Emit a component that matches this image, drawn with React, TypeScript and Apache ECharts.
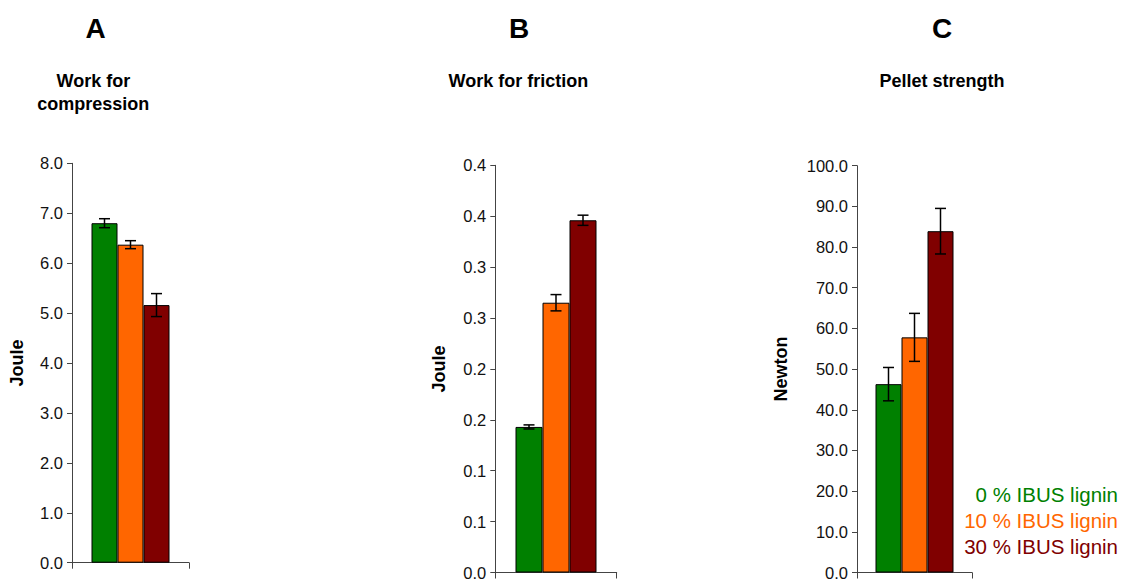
import React, { useEffect, useRef } from "react";
import * as echarts from "echarts";

const groups = ["0 % IBUS lignin", "10 % IBUS lignin", "30 % IBUS lignin"];
const colors = ["#008000", "#FF6600", "#800000"];

const panelLetters = ["A", "B", "C"];
const panelTitles = ["Work for\ncompression", "Work for friction", "Pellet strength"];
const axisNames = ["Joule", "Joule", "Newton"];

const compressionMean = [6.8, 6.37, 5.16];
const compressionErr = [0.09, 0.08, 0.23];
const frictionMean = [0.143, 0.265, 0.346];
const frictionErr = [0.002, 0.008, 0.005];
const strengthMean = [46.3, 57.8, 83.9];
const strengthErr = [4.1, 5.9, 5.6];

const axisMax = [8, 0.4, 100];
const axisInterval = [1, 0.05, 10];

const FONT = "'Liberation Sans', Arial, sans-serif";

export default function App() {
  const ref = useRef<HTMLDivElement>(null);

  useEffect(() => {
    if (!ref.current) return;
    const chart = echarts.init(ref.current, undefined, { renderer: "svg" });

    const means = [compressionMean, frictionMean, strengthMean];
    const errs = [compressionErr, frictionErr, strengthErr];

    const grids = [
      { left: 72, top: 163.3, width: 117, height: 399.4 },
      { left: 495.3, top: 165.3, width: 121.4, height: 408 },
      { left: 857, top: 165.7, width: 115, height: 411.6 },
    ];
    const barWidths = [26, 27, 26];
    const nameGaps = [46, 47, 67];
    const centers = [95.5, 519, 942];

    const axisColor = "#444";

    const xAxis = grids.map((_, i) => ({
      type: "category",
      gridIndex: i,
      data: [""],
      axisLabel: { show: false },
      axisLine: { lineStyle: { color: axisColor, width: 1 } },
      axisTick: { show: true, length: 6, lineStyle: { color: axisColor } },
      splitLine: { show: false },
    }));

    const yAxis = grids.map((_, i) => ({
      type: "value",
      gridIndex: i,
      min: 0,
      max: axisMax[i],
      interval: axisInterval[i],
      name: axisNames[i],
      nameLocation: "middle",
      nameRotate: 90,
      nameGap: nameGaps[i],
      nameTextStyle: { fontFamily: FONT, fontWeight: "bold", fontSize: 18, color: "#000" },
      axisLine: { show: true, lineStyle: { color: axisColor, width: 1 } },
      axisTick: { show: true, length: 5, lineStyle: { color: axisColor } },
      splitLine: { show: false },
      axisLabel: {
        margin: 9,
        fontFamily: FONT,
        fontSize: 16.5,
        color: "#111",
        formatter: (v: number) => (Math.round(v * 10) / 10).toFixed(1),
      },
    }));

    const series: any[] = [];
    for (let g = 0; g < 3; g++) {
      for (let s = 0; s < 3; s++) {
        series.push({
          type: "bar",
          name: groups[s],
          xAxisIndex: g,
          yAxisIndex: g,
          data: [means[g][s]],
          barWidth: barWidths[g],
          barGap: "0%",
          itemStyle: {
            color: colors[s],
            borderColor: "#000",
            borderWidth: 1,
          },
          z: 2,
        });
      }
      const bw = barWidths[g];
      series.push({
        type: "custom",
        name: "error" + g,
        xAxisIndex: g,
        yAxisIndex: g,
        z: 5,
        data: means[g].map((m, s) => [0, m, errs[g][s], s]),
        encode: { x: 0, y: 1 },
        renderItem: (params: any, api: any) => {
          const v = api.value(1);
          const e = api.value(2);
          const idx = api.value(3);
          const base = api.coord([0, v]);
          const hi = api.coord([0, v + e]);
          const lo = api.coord([0, v - e]);
          const x = base[0] + (idx - 1) * bw;
          const cap = 5.5;
          const st = { stroke: "#000", lineWidth: 1.5 };
          return {
            type: "group",
            children: [
              { type: "line", shape: { x1: x, y1: hi[1], x2: x, y2: lo[1] }, style: st },
              { type: "line", shape: { x1: x - cap, y1: hi[1], x2: x + cap, y2: hi[1] }, style: st },
              { type: "line", shape: { x1: x - cap, y1: lo[1], x2: x + cap, y2: lo[1] }, style: st },
            ],
          };
        },
      });
    }

    const titles: any[] = [];
    for (let i = 0; i < 3; i++) {
      titles.push({
        text: panelLetters[i],
        left: centers[i],
        textAlign: "center",
        top: 14.8,
        padding: 0,
        textStyle: { fontFamily: FONT, fontWeight: "bold", fontSize: 28, lineHeight: 28, color: "#000" },
      });
    }
    titles.push({
      text: panelTitles[0],
      left: 93.3,
      textAlign: "center",
      top: 69.5,
      padding: 0,
      textStyle: { fontFamily: FONT, fontWeight: "bold", fontSize: 18, lineHeight: 23, color: "#000" },
    });
    titles.push({
      text: panelTitles[1],
      left: 518.4,
      textAlign: "center",
      top: 71.5,
      padding: 0,
      textStyle: { fontFamily: FONT, fontWeight: "bold", fontSize: 18, lineHeight: 18, color: "#000" },
    });
    titles.push({
      text: panelTitles[2],
      left: 942,
      textAlign: "center",
      top: 71.5,
      padding: 0,
      textStyle: { fontFamily: FONT, fontWeight: "bold", fontSize: 18, lineHeight: 18, color: "#000" },
    });

    const legendTops = [484, 510, 536];
    const legend = groups.map((name, i) => ({
      data: [{ name, textStyle: { color: colors[i] } }],
      right: -2,
      top: legendTops[i],
      padding: 0,
      align: "right",
      itemWidth: 0,
      itemHeight: 0,
      selectedMode: false,
      textStyle: { fontFamily: FONT, fontSize: 20.5, lineHeight: 20, color: colors[i] },
    }));

    chart.setOption({
      animation: false,
      backgroundColor: "#fff",
      title: titles,
      legend,
      grid: grids.map((g) => ({ ...g, containLabel: false })),
      xAxis,
      yAxis,
      series,
    });

    return () => chart.dispose();
  }, []);

  return (
    <div
      ref={ref}
      style={{ position: "fixed", left: 0, top: 0, width: 1122, height: 581, background: "#fff" }}
    />
  );
}
